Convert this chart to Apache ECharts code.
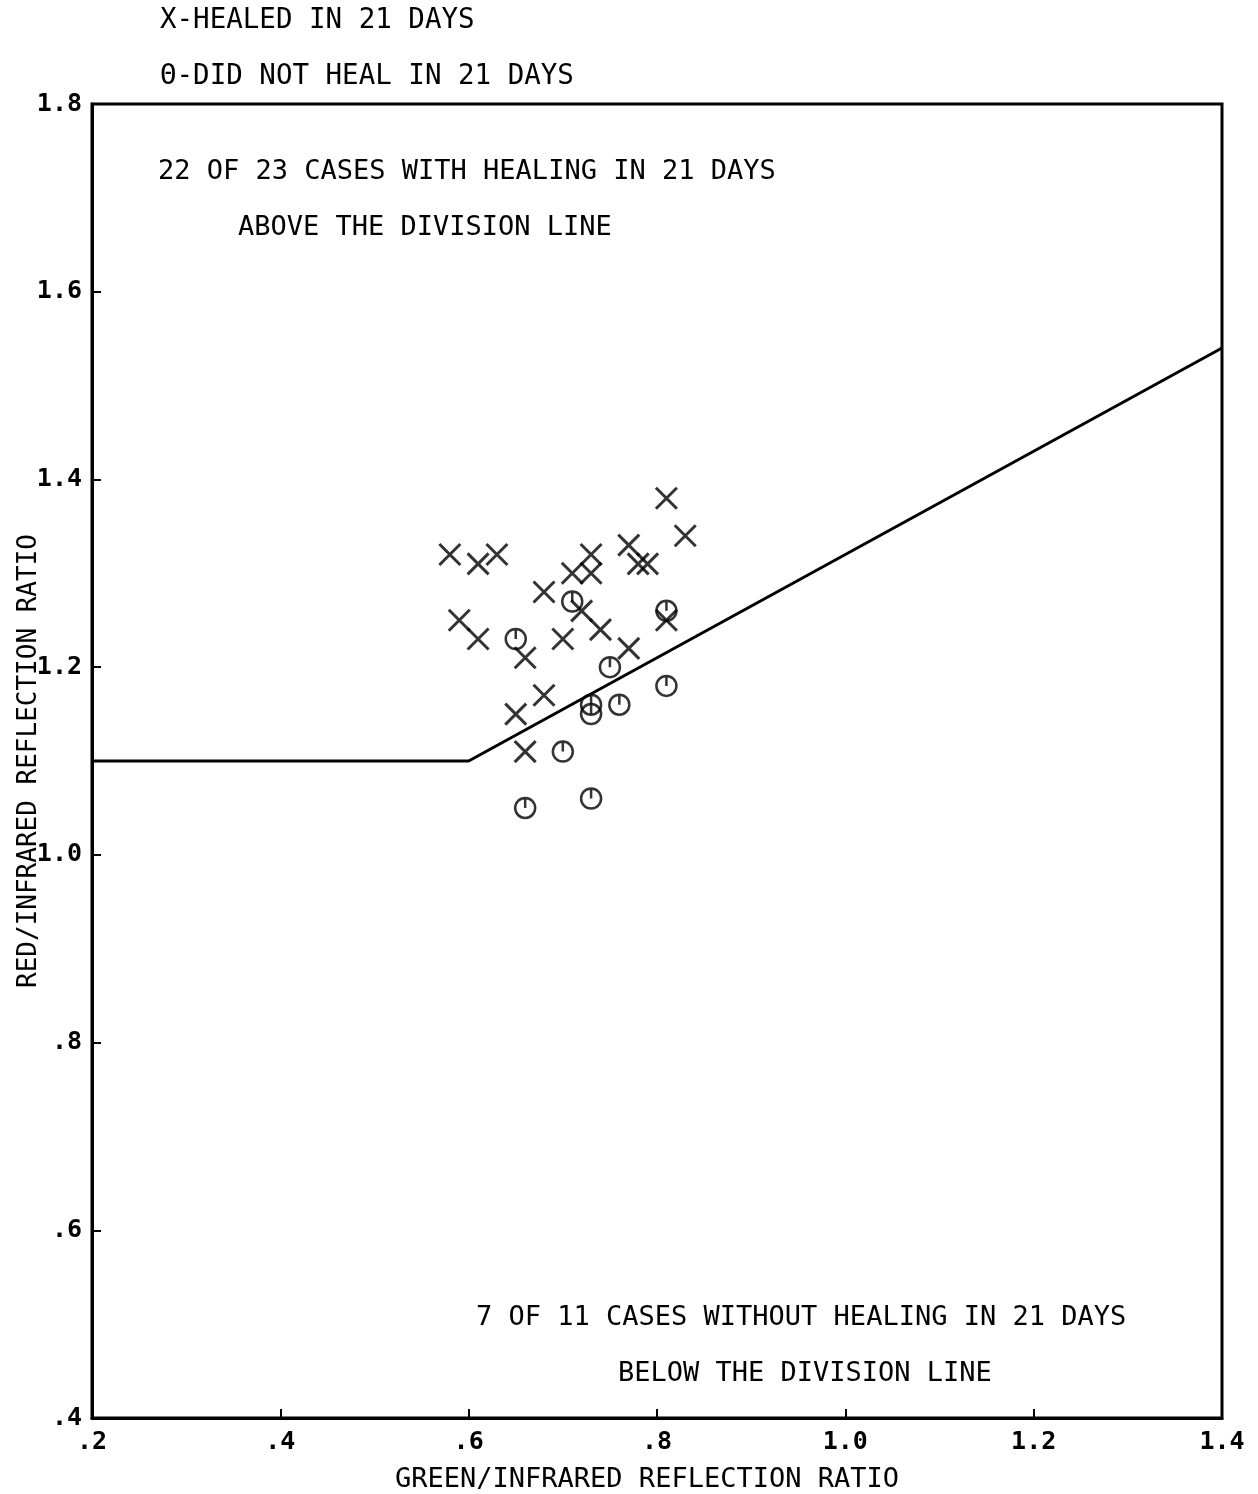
<!DOCTYPE html>
<html><head><meta charset="utf-8">
<script src="https://cdn.jsdelivr.net/npm/echarts@6/dist/echarts.min.js"></script>
<style>html,body{margin:0;padding:0;background:#fff}#c{width:1258px;height:1494px}</style>
</head><body><div id="c"></div>
<script>
var healed = [
  [0.81,1.38],[0.83,1.34],[0.77,1.33],[0.78,1.31],[0.79,1.31],
  [0.73,1.32],[0.71,1.30],[0.73,1.30],[0.68,1.28],[0.58,1.32],
  [0.61,1.31],[0.63,1.32],[0.59,1.25],[0.61,1.23],[0.66,1.21],
  [0.70,1.23],[0.72,1.26],[0.74,1.24],[0.77,1.22],[0.81,1.25],
  [0.68,1.17],[0.65,1.15],[0.66,1.11]
];
var notHealed = [
  [0.71,1.27],[0.65,1.23],[0.81,1.26],[0.75,1.20],[0.81,1.18],
  [0.76,1.16],[0.73,1.16],[0.73,1.15],[0.70,1.11],[0.73,1.06],[0.66,1.05]
];
var divisionLine = [[0.2,1.1],[0.6,1.1],[1.4,1.54]];
var xTicks = ['.2','.4','.6','.8','1.0','1.2','1.4'];
var yTicks = ['.4','.6','.8','1.0','1.2','1.4','1.6','1.8'];
var legendTexts = ['X-HEALED IN 21 DAYS','\u0398-DID NOT HEAL IN 21 DAYS'];
var notes = ['22 OF 23 CASES WITH HEALING IN 21 DAYS','ABOVE THE DIVISION LINE',
             '7 OF 11 CASES WITHOUT HEALING IN 21 DAYS','BELOW THE DIVISION LINE'];

var FONT = '"DejaVu Sans Mono", "Liberation Mono", monospace';
function fmt(list, min){ return function(v){ var i = Math.round((v-min)/0.2); return list[i] !== undefined ? list[i] : ''; }; }

var X_PATH = 'path://M0,0L20,20M20,0L0,20';
var O_PATH = 'path://M0,10A10,10 0 1,0 20,10A10,10 0 1,0 0,10Z M10,0L10,10';

var chart = echarts.init(document.getElementById('c'));
chart.setOption({
  backgroundColor:'#fff',
  animation:false,
  grid:{left:92,right:36,top:104,bottom:76,outerBoundsMode:'none',containLabel:false,show:true,borderColor:'#000',borderWidth:3,backgroundColor:'transparent'},
  xAxis:{type:'value',min:0.2,max:1.4,interval:0.2,
    name:'GREEN/INFRARED REFLECTION RATIO',nameLocation:'middle',nameGap:48,nameMoveOverlap:false,
    nameTextStyle:{fontFamily:FONT,fontSize:27,color:'#000',padding:[0,20,0,0]},
    axisLine:{show:true,lineStyle:{color:'#000',width:3}},
    axisTick:{show:true,inside:true,length:9,lineStyle:{color:'#000',width:2}},
    axisLabel:{formatter:fmt(xTicks,0.2),fontFamily:FONT,fontSize:25,fontWeight:'bold',color:'#000',margin:12},
    splitLine:{show:false}},
  yAxis:{type:'value',min:0.4,max:1.8,interval:0.2,
    name:'RED/INFRARED REFLECTION RATIO',nameLocation:'middle',nameGap:50,nameRotate:90,nameMoveOverlap:false,
    nameTextStyle:{fontFamily:FONT,fontSize:26,color:'#000'},
    axisLine:{show:true,lineStyle:{color:'#000',width:3}},
    axisTick:{show:true,inside:true,length:9,lineStyle:{color:'#000',width:2}},
    axisLabel:{formatter:fmt(yTicks,0.4),fontFamily:FONT,fontSize:25,fontWeight:'bold',color:'#000',margin:10},
    splitLine:{show:false}},
  graphic:[
    {type:'text',left:160,top:7,style:{text:legendTexts[0],font:'27.5px '+FONT,fill:'#000'}},
    {type:'text',left:160,top:63,style:{text:legendTexts[1],font:'27.5px '+FONT,fill:'#000'}},
    {type:'text',left:158,top:158,style:{text:notes[0],font:'27px '+FONT,fill:'#000'}},
    {type:'text',left:238,top:214,style:{text:notes[1],font:'27px '+FONT,fill:'#000'}},
    {type:'text',left:476,top:1304,style:{text:notes[2],font:'27px '+FONT,fill:'#000'}},
    {type:'text',left:618,top:1360,style:{text:notes[3],font:'27px '+FONT,fill:'#000'}}
  ],
  series:[
    {type:'line',data:divisionLine,symbol:'none',lineStyle:{color:'#000',width:3},z:1},
    {type:'scatter',data:healed,symbol:X_PATH,symbolSize:21,
      itemStyle:{color:'rgba(0,0,0,0)',borderColor:'#000',borderWidth:3},z:3},
    {type:'scatter',data:notHealed,symbol:O_PATH,symbolSize:20,
      itemStyle:{color:'rgba(0,0,0,0)',borderColor:'#000',borderWidth:2.5},z:3}
  ]
});
</script></body></html>
